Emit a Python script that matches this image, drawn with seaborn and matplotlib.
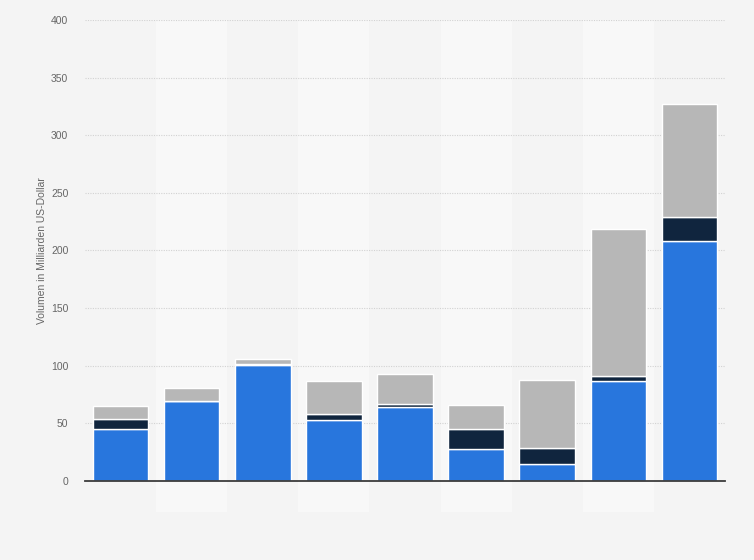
import numpy as np
import pandas as pd
import seaborn as sns
from matplotlib import pyplot as plt

# values (Milliarden US-Dollar)
categories = ['1', '2', '3', '4', '5', '6', '7', '8', '9']
blue_vals = [45, 69, 100.5, 53, 64, 28, 14.5, 86.5, 208]
navy_vals = [8.5, 0, 1, 5, 2.5, 17, 14.5, 5, 21]
gray_vals = [11.5, 11.5, 4, 28.5, 26, 21, 58.5, 127, 98]
yticks = [0, 50, 100, 150, 200, 250, 300, 350, 400]
ylabel = 'Volumen in Milliarden US-Dollar'

BG = '#f4f4f4'
BAND = '#f8f8f8'
colors = ['#2876dd', '#10253e', '#b7b7b7']

sns.set_style('white')
plt.rcParams['font.family'] = ['Liberation Sans', 'DejaVu Sans']

fig = plt.figure(figsize=(7.54, 5.6), dpi=100, facecolor=BG)
ax = fig.add_axes([85 / 754, 79 / 560, 640 / 754, 461 / 560])
ax.set_facecolor(BG)

# alternating column bands
for i in range(1, len(categories), 2):
    ax.axvspan(i - 0.5, i + 0.5, ymin=-0.067, ymax=1, color=BAND, zorder=0, clip_on=False, lw=0)

df = pd.DataFrame({'cat': categories, 'blue': blue_vals, 'navy': navy_vals, 'gray': gray_vals})
bottom = np.zeros(len(df))
for col, c in zip(['blue', 'navy', 'gray'], colors):
    sns.barplot(data=df, x='cat', y=col, order=categories, color=c, width=0.78,
                bottom=bottom, edgecolor='white', linewidth=1, saturation=1, ax=ax, zorder=3)
    bottom = bottom + df[col].to_numpy()

ax.set_xlim(-0.5, len(categories) - 0.5)
ax.set_ylim(0, 400)
ax.set_yticks(yticks)
ax.set_yticklabels([str(t) for t in yticks], fontsize=7.5, color='#666666')
ax.set_xticks([])
ax.set_xlabel('')
ax.set_ylabel(ylabel, fontsize=7.5, color='#666666', labelpad=3)
ax.tick_params(axis='y', length=0, pad=12)
ax.grid(axis='y', color='#d2d2d2', linestyle=(0, (1, 1.2)), linewidth=0.8, zorder=1)
ax.set_axisbelow(True)
for side in ['top', 'right', 'left']:
    ax.spines[side].set_visible(False)
ax.spines['bottom'].set_color('#3c3c3c')
ax.spines['bottom'].set_linewidth(1.3)
ax.spines['bottom'].set_zorder(5)

fig.savefig('out.png', dpi=100, facecolor=BG)
